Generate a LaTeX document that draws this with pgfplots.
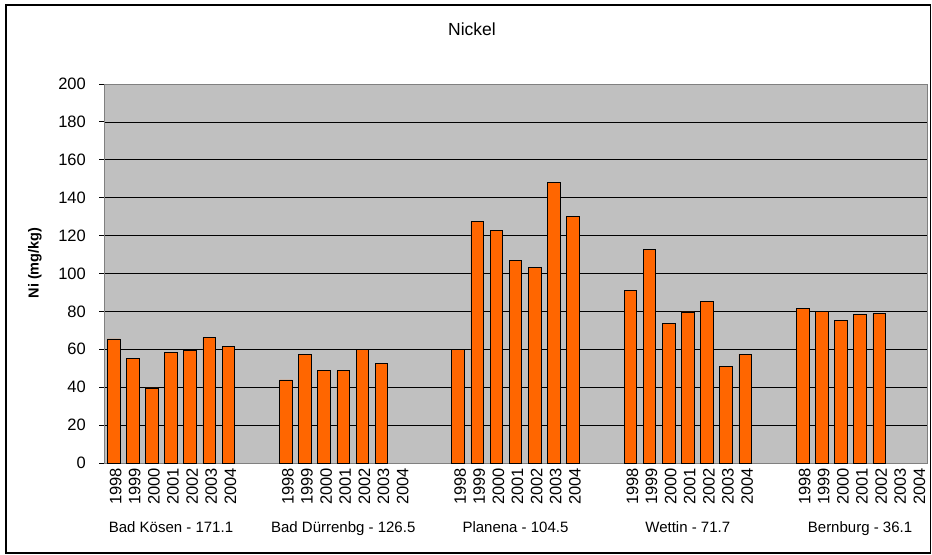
\documentclass[border=0pt]{standalone}
\usepackage{pgfplots}
\pgfplotsset{compat=1.18}
\usepackage{fontspec}
\setmainfont{Liberation Sans}
\definecolor{barorange}{RGB}{255,102,0}
\definecolor{bggray}{RGB}{192,192,192}
\definecolor{framegray}{RGB}{128,128,128}
\begin{document}
\begin{tikzpicture}
\useasboundingbox (0bp,0bp) rectangle (932bp,555bp);
\draw[line width=1.3bp, black] (6bp,2bp) rectangle (930.5bp,550bp);
\node[anchor=base, font=\fontsize{17.5bp}{20bp}\selectfont] at (472bp,519bp) {Nickel};
\node[rotate=90, anchor=center, font=\fontsize{14.5bp}{17bp}\selectfont\bfseries] at (35bp,292bp) {Ni (mg/kg)};
\begin{axis}[
  at={(104bp,92bp)}, anchor=south west,
  width=823bp, height=379bp, scale only axis,
  xmin=-0.5, xmax=42.5, ymin=0, ymax=200,
  ybar, bar width=12.6bp,
  axis background/.style={fill=bggray},
  axis line style={draw=framegray, line width=0.8bp},
  ytick={0,20,...,200},
  ymajorgrids, grid style={black, line width=0.7bp},
  /pgf/number format/assume math mode=true,
  tick label style={font=\fontsize{16.5bp}{19bp}\selectfont},
  ytick pos=left,
  tick align=outside,
  major tick length=5bp,
  every major y tick/.append style={black, line width=0.8bp},
  xtick={0,1,2,3,4,5,6,9,10,11,12,13,14,15,18,19,20,21,22,23,24,27,28,29,30,31,32,33,36,37,38,39,40,41,42},
  xticklabels={1998,1999,2000,2001,2002,2003,2004,1998,1999,2000,2001,2002,2003,2004,1998,1999,2000,2001,2002,2003,2004,1998,1999,2000,2001,2002,2003,2004,1998,1999,2000,2001,2002,2003,2004},
  xtick pos=bottom,
  every major x tick/.append style={draw=none},
  minor xtick={-0.5,0.5,...,42.5},
  minor tick length=3bp,
  every minor x tick/.append style={draw=white, line width=1.2bp},
  xticklabel style={rotate=90, anchor=east, inner sep=0pt, yshift=-2bp},
  yticklabel style={inner sep=0pt, xshift=-13bp},
  clip=false,
]
\addplot[fill=barorange, draw=black, line width=0.7bp] coordinates {
 (0,65.5) (1,55.0) (2,39.6) (3,58.2) (4,59.4) (5,66.1) (6,61.7)
 (9,43.8) (10,57.5) (11,48.9) (12,48.9) (13,59.8) (14,52.6)
 (18,60.0) (19,127.4) (20,122.8) (21,107.0) (22,103.1) (23,148.1) (24,130.2)
 (27,90.9) (28,112.9) (29,73.5) (30,79.7) (31,85.3) (32,50.8) (33,57.5)
 (36,81.4) (37,80.2) (38,75.3) (39,78.5) (40,79.0)
};
\foreach \g/\lab in {3/{Bad Kösen - 171.1}, 12/{Bad Dürrenbg - 126.5}, 21/{Planena - 104.5}, 30/{Wettin - 71.7}, 39/{Bernburg - 36.1}} {
  \edef\temp{\noexpand\node[anchor=base, font=\noexpand\fontsize{15bp}{17bp}\noexpand\selectfont] at (axis cs:\g,0) [yshift=-69bp] {\lab};}
  \temp
}
\end{axis}
\end{tikzpicture}
\end{document}
